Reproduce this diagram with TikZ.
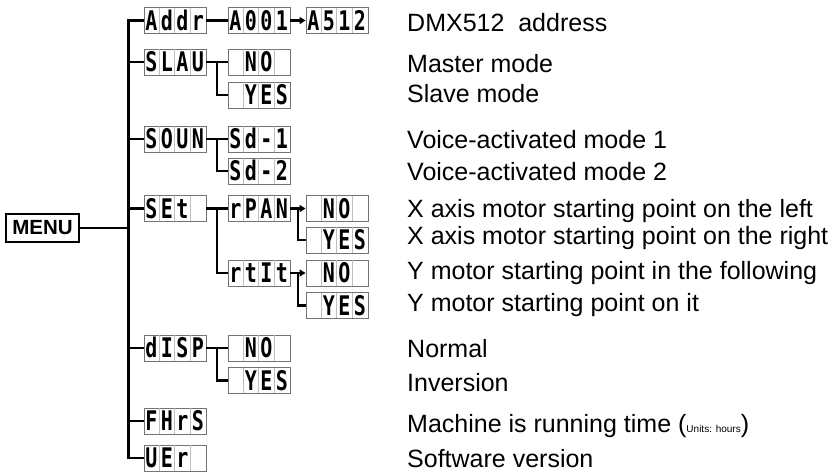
\documentclass[tikz,border=0pt]{standalone}
\usepackage{fontspec}
\setmainfont{Liberation Sans}
\newfontfamily\segfont{DejaVu Sans Mono}
\usepackage{graphicx}
\usetikzlibrary{calc,arrows.meta}

\tikzset{
  dbox/.style={draw=black!55, line width=0.9pt, minimum width=62pt, minimum height=26pt, inner sep=0pt, fill=white},
  celldiv/.style={draw=black!25, line width=0.7pt},
  seg/.style={inner sep=0pt, font=\segfont\bfseries\fontsize{27}{27}\selectfont, text height=19.5pt, text depth=0pt},
  conn/.style={line width=2.8pt, line join=miter},
  tip/.style={-{Triangle[length=6pt,width=7pt]}},
  desc/.style={anchor=base west, inner sep=0pt, font=\fontsize{25}{30}\selectfont},
  menubox/.style={draw=black, line width=2.2pt, minimum width=73pt, minimum height=28pt, inner sep=0pt, font=\bfseries\fontsize{20.5}{24}\selectfont},
}
\newcommand\segch[1]{\scalebox{0.74}[1]{#1}}
\newcommand\dispbox[6]{%
  \node[dbox] (#1) at (#2) {};
  \foreach \k in {1,2,3} {\draw[celldiv] ($(#1.north west)+(15.5*\k,0.5)$) -- ($(#1.south west)+(15.5*\k,-0.5)$);}
  \node[seg] (#1-1) at ($(#1.west)+(7.75,0)$) {\segch{#3}};
  \node[seg] (#1-2) at ($(#1.west)+(23.25,0)$) {\segch{#4}};
  \node[seg] (#1-3) at ($(#1.west)+(38.75,0)$) {\segch{#5}};
  \node[seg] (#1-4) at ($(#1.west)+(54.25,0)$) {\segch{#6}};
}

\begin{document}
\begin{tikzpicture}[x=1pt,y=-1pt]
\path[fill=white] (0,0) rectangle (832,474);
\useasboundingbox (0,0) rectangle (832,474);

% MENU
\node[menubox] (menu) at (42.5,228) {MENU};
\coordinate (tk) at (128.5,0);

% level 1
\dispbox{addr}{175,20.5}{A}{d}{d}{r}
\dispbox{slau}{175,62}{S}{L}{A}{U}
\dispbox{soun}{175,139}{S}{O}{U}{N}
\dispbox{set}{175,208.5}{S}{E}{t}{}
\dispbox{disp}{175,348}{d}{I}{S}{P}
\dispbox{fhrs}{175,421}{F}{H}{r}{S}
\dispbox{uer}{175,458}{U}{E}{r}{}

% level 2
\dispbox{a001}{259,20.5}{A}{0}{0}{1}
\dispbox{slauno}{259,62}{}{N}{O}{}
\dispbox{slauyes}{259,95}{}{Y}{E}{S}
\dispbox{sd1}{259,139}{S}{d}{-}{1}
\dispbox{sd2}{259,171}{S}{d}{-}{2}
\dispbox{rpan}{259,208.5}{r}{P}{A}{N}
\dispbox{rtit}{259,273}{r}{t}{I}{t}
\dispbox{dispno}{259,348}{}{N}{O}{}
\dispbox{dispyes}{259,380.5}{}{Y}{E}{S}

% level 3
\dispbox{a512}{337,20.5}{A}{5}{1}{2}
\dispbox{rpanno}{337,208.5}{}{N}{O}{}
\dispbox{rpanyes}{337,240}{}{Y}{E}{S}
\dispbox{rtitno}{337,273}{}{N}{O}{}
\dispbox{rtityes}{337,305.5}{}{Y}{E}{S}

% connectors
\draw[conn] (menu.east) -- (menu.east -| tk);
\draw[conn] (addr.west) -- (addr.west -| tk) -- (uer.west -| tk) -- (uer.west);
\foreach \n in {slau,soun,set,disp,fhrs} {\draw[conn] (\n.west -| tk) -- (\n.west);}

\draw[conn] (addr.east) -- (a001.west);
\draw[conn,tip] (a001.east) -- (a512.west);

\draw[conn] (slau.east) -- (slauno.west);
\draw[conn] ($(slau.east)!0.5!(slauno.west)$) |- (slauyes.west);
\draw[conn] (soun.east) -- (sd1.west);
\draw[conn] ($(soun.east)!0.5!(sd1.west)$) |- (sd2.west);
\draw[conn] (set.east) -- (rpan.west);
\draw[conn] ($(set.east)!0.5!(rpan.west)$) |- (rtit.west);
\draw[conn] (disp.east) -- (dispno.west);
\draw[conn] ($(disp.east)!0.5!(dispno.west)$) |- (dispyes.west);

\draw[conn,tip] (rpan.east) -- (rpanno.west);
\draw[conn] ($(rpan.east)!0.5!(rpanno.west)$) |- (rpanyes.west);
\draw[conn,tip] (rtit.east) -- (rtitno.west);
\draw[conn] ($(rtit.east)!0.5!(rtitno.west)$) |- (rtityes.west);

% descriptions
\node[desc] (t1) at (407,31) {DMX512\ \ address};
\node[desc] (t2) at (407,72) {Master mode};
\node[desc] (t3) at (407,102) {Slave mode};
\node[desc] (t4) at (407,148) {Voice-activated mode 1};
\node[desc] (t5) at (407,180) {Voice-activated mode 2};
\node[desc] (t6) at (407,217) {X axis motor starting point on the left};
\node[desc] (t7) at (407,244) {X axis motor starting point on the right};
\node[desc] (t8) at (407,279) {Y motor starting point in the following};
\node[desc] (t9) at (407,311) {Y motor starting point on it};
\node[desc] (t10) at (407,357) {Normal};
\node[desc] (t11) at (407,391) {Inversion};
\node[desc] (t12) at (407,432) {Machine is running time (\fontsize{10}{12}\selectfont Units: hours\fontsize{25}{30}\selectfont)};
\node[desc] (t13) at (407,467) {Software version};
\end{tikzpicture}
\end{document}
